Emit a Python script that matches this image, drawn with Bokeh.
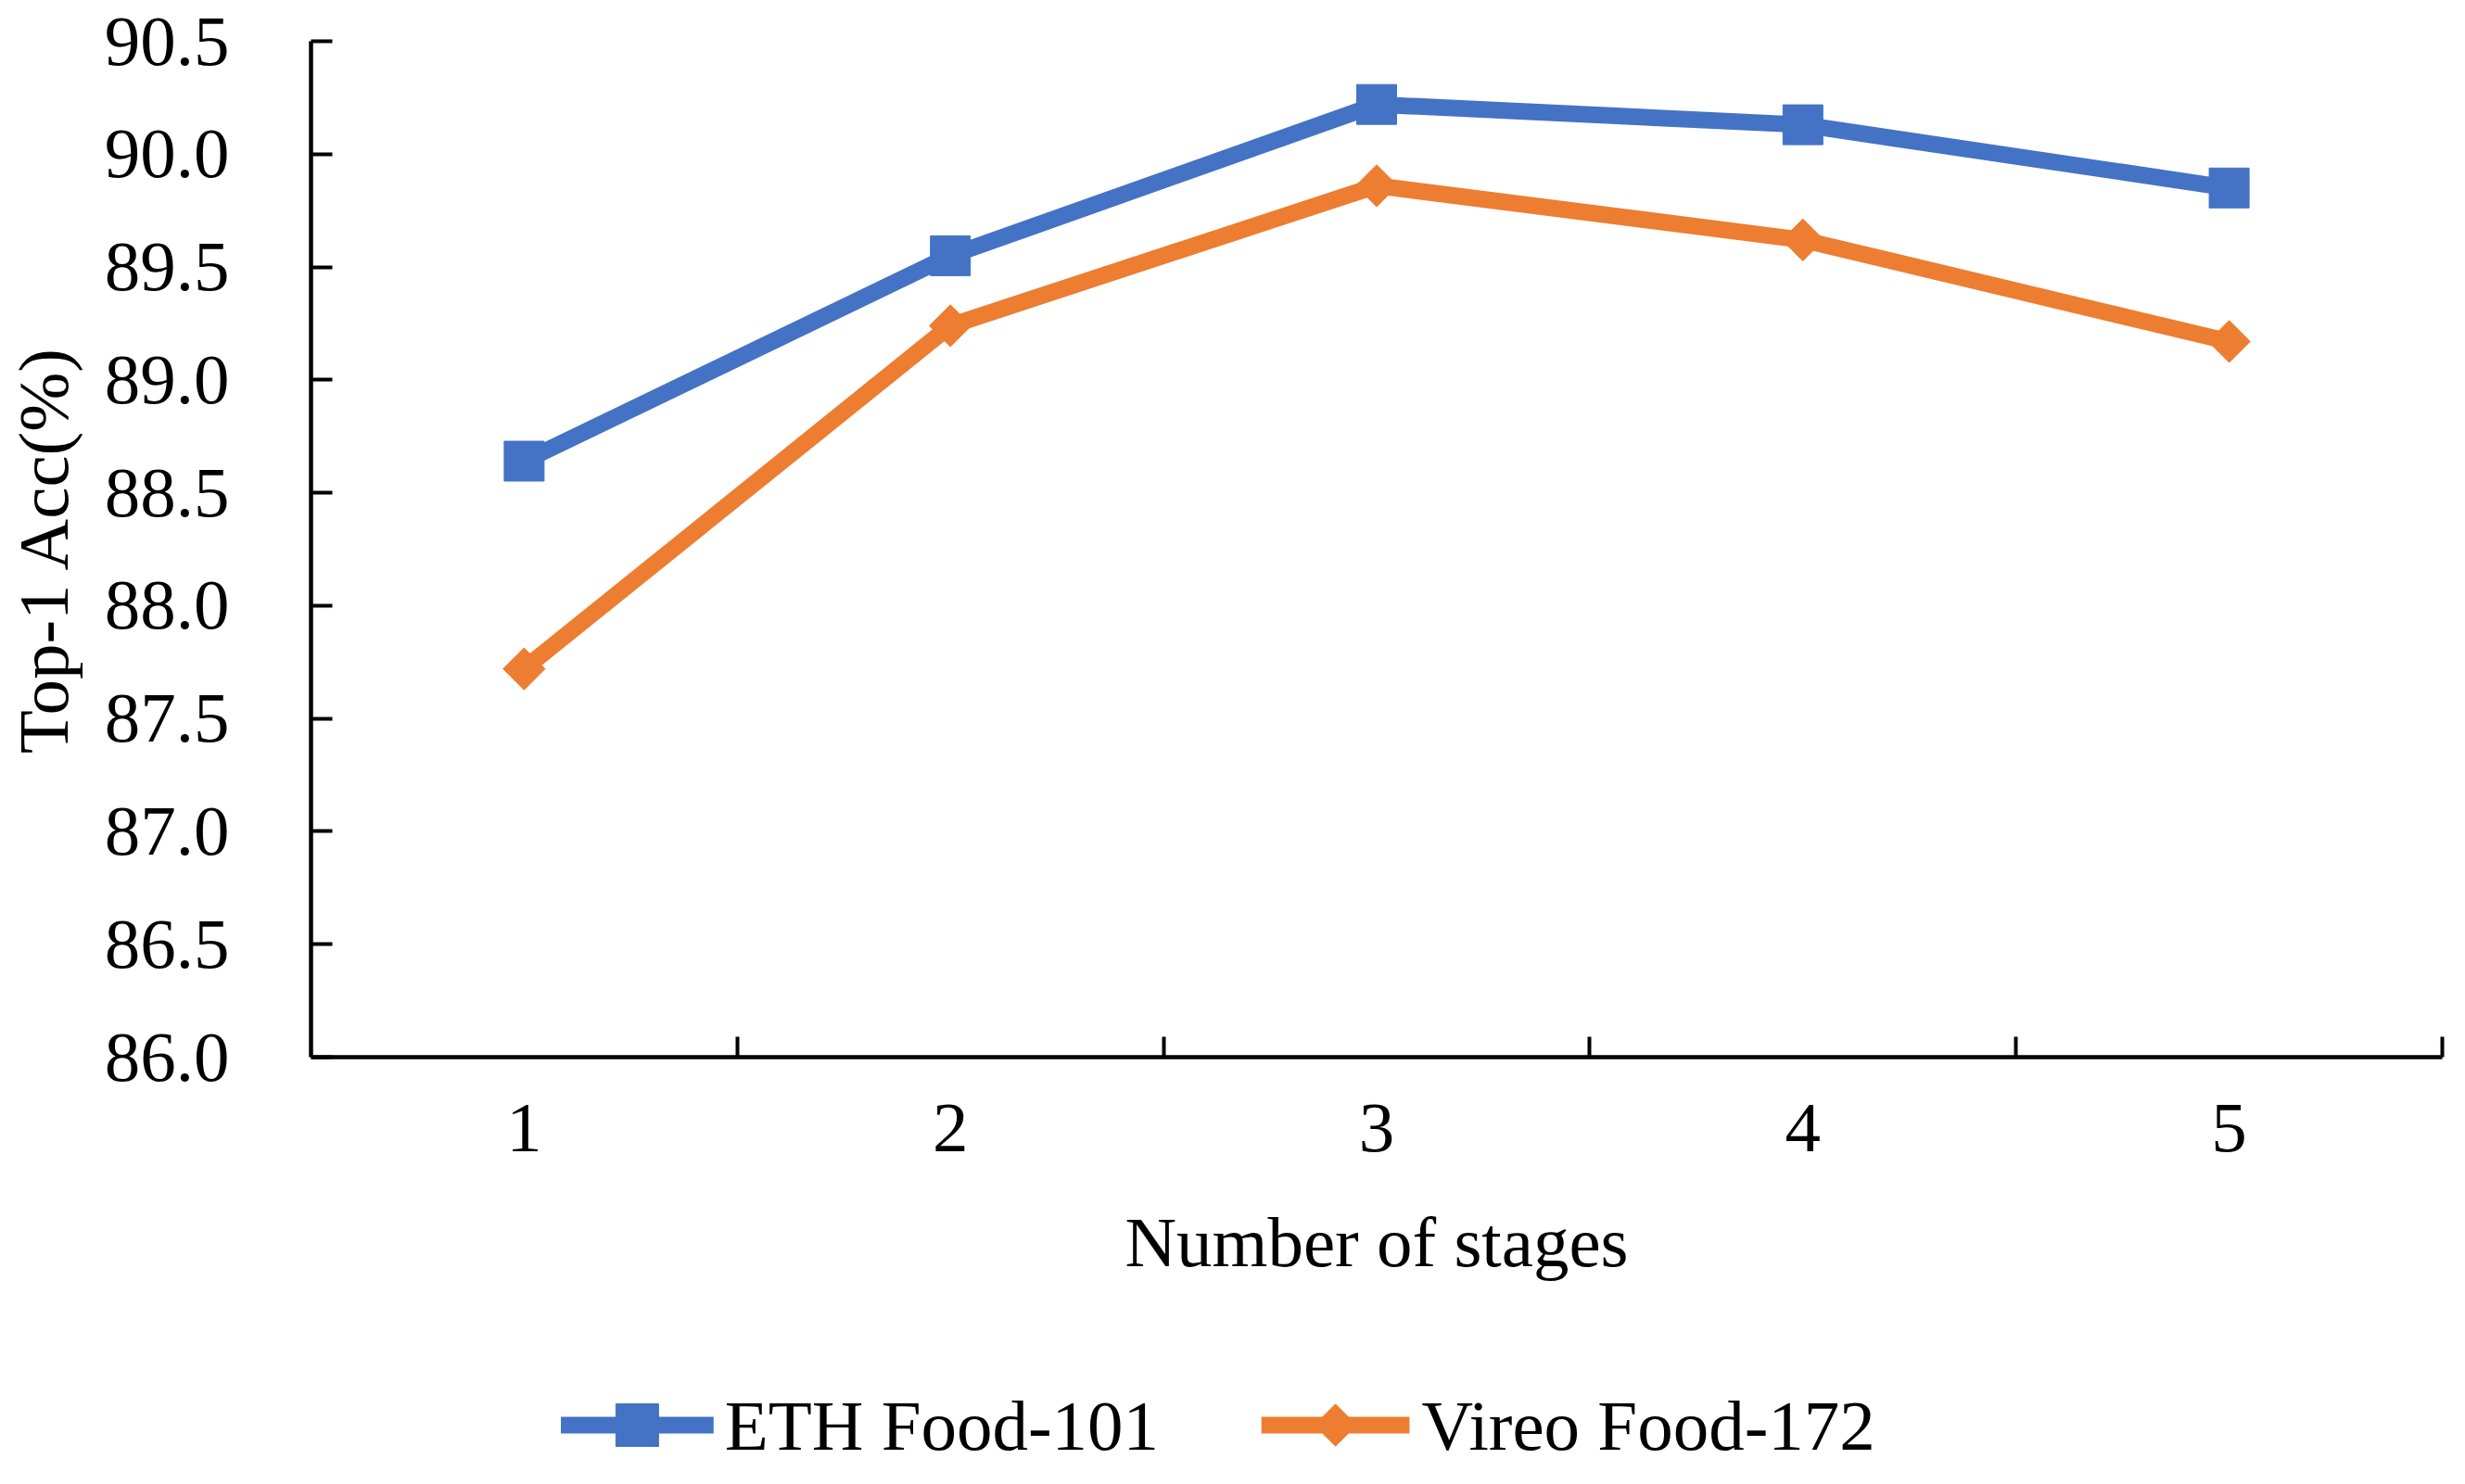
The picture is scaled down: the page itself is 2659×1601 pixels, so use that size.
import math
from bokeh.plotting import figure
from bokeh.layouts import column
from bokeh.models import Range1d, FixedTicker, NumeralTickFormatter
from bokeh.core.properties import value
from bokeh.embed import file_html
from bokeh.resources import INLINE

stages = [1, 2, 3, 4, 5]
stage_labels = ["1", "2", "3", "4", "5"]
series_names = ["ETH Food-101", "Vireo Food-172"]
eth_food101 = [88.64, 89.55, 90.22, 90.13, 89.85]
vireo_food172 = [87.72, 89.24, 89.86, 89.62, 89.17]
y_ticks = [86.0, 86.5, 87.0, 87.5, 88.0, 88.5, 89.0, 89.5, 90.0, 90.5]

BLUE = "#4472C4"
ORANGE = "#ED7D31"
FONT = "Liberation Serif"
FS = "77px"
W = 2643
H_MAIN = 1430
H_LEG = 155
BL, BR = 331, 9

p = figure(width=W, height=H_MAIN, output_backend="svg", toolbar_location=None,
           x_range=Range1d(0.5, 5.5), y_range=Range1d(86.0, 90.5),
           min_border_left=BL, min_border_right=BR, min_border_top=44, min_border_bottom=290)
p.outline_line_color = None
p.xgrid.visible = False
p.ygrid.visible = False

# x axis
xa = p.xaxis[0]
xa.ticker = FixedTicker(ticks=stages, minor_ticks=[1.5, 2.5, 3.5, 4.5, 5.5])
xa.major_label_overrides = {s: l for s, l in zip(stages, stage_labels)}
xa.major_tick_in = 0
xa.major_tick_out = 0
xa.minor_tick_in = 22
xa.minor_tick_out = 0
xa.minor_tick_line_width = 4
xa.minor_tick_line_color = "black"
xa.axis_line_width = 4.5
xa.axis_line_color = "black"
xa.major_label_text_font = FONT
xa.major_label_text_font_size = FS
xa.major_label_text_color = "black"
xa.major_label_standoff = 51
xa.axis_label = "Number of stages"
xa.axis_label_text_font = FONT
xa.axis_label_text_font_size = FS
xa.axis_label_text_font_style = "normal"
xa.axis_label_text_color = "black"
xa.axis_label_standoff = 52

# y axis
ya = p.yaxis[0]
ya.ticker = FixedTicker(ticks=y_ticks, minor_ticks=[])
ya.formatter = NumeralTickFormatter(format="0.0")
ya.major_tick_in = 23
ya.major_tick_out = 0
ya.major_tick_line_width = 4
ya.major_tick_line_color = "black"
ya.minor_tick_in = 0
ya.minor_tick_out = 0
ya.axis_line_width = 4.5
ya.axis_line_color = "black"
ya.major_label_text_font = FONT
ya.major_label_text_font_size = FS
ya.major_label_text_color = "black"
ya.major_label_standoff = 88
ya.axis_label = "Top-1 Acc(%)"
ya.axis_label_text_font = FONT
ya.axis_label_text_font_size = FS
ya.axis_label_text_font_style = "normal"
ya.axis_label_text_color = "black"
ya.axis_label_standoff = 20

p.line(stages, eth_food101, line_color=BLUE, line_width=18)
p.scatter(stages, eth_food101, marker="square", size=43, fill_color=BLUE, line_color=BLUE)
p.line(stages, vireo_food172, line_color=ORANGE, line_width=18)
p.scatter(stages, vireo_food172, marker="square", angle=math.pi / 4, size=32,
          fill_color=ORANGE, line_color=ORANGE)

# legend strip (its own small figure below the chart; its frame is aligned with the chart's)
q = figure(width=W, height=H_LEG, output_backend="svg", toolbar_location=None,
           x_range=Range1d(BL, W - BR), y_range=Range1d(0, H_LEG),
           x_axis_type=None, y_axis_type=None,
           min_border_left=BL, min_border_right=BR, min_border_top=0, min_border_bottom=0)
q.outline_line_color = None
q.grid.visible = False
ly = 48
colors = [BLUE, ORANGE]
seg_x0 = [601, 1358]
seg_x1 = [766, 1518]
q.segment(x0=seg_x0, x1=seg_x1, y0=[ly, ly], y1=[ly, ly], line_color=colors, line_width=18)
q.scatter(x=[(seg_x0[0] + seg_x1[0]) / 2], y=[ly], marker="square", size=46,
          fill_color=BLUE, line_color=BLUE)
q.scatter(x=[(seg_x0[1] + seg_x1[1]) / 2], y=[ly], marker="square", angle=math.pi / 4, size=32,
          fill_color=ORANGE, line_color=ORANGE)
q.text(x=[778, 1531], y=[ly, ly], text=series_names, text_font=value(FONT),
       text_font_size=FS, text_color="black", text_align="left", text_baseline="middle")

layout = column(p, q, spacing=0)
open("out.html", "w").write(file_html(layout, INLINE))
